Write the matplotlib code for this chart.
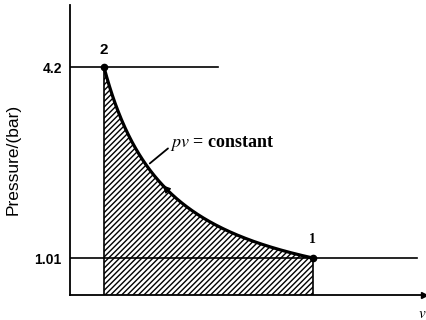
import numpy as np
import matplotlib
matplotlib.use("Agg")
import matplotlib.pyplot as plt

# Data
p_states = [1.01, 4.2]          # pressures at state 1 and 2 (bar)
state_labels = ["1", "2"]
C = 4.2                          # pv constant (arbitrary units)
v_states = [C / p for p in p_states]
ytick_vals = [1.01, 4.2]
ytick_labels = ["1.01", "4.2"]

plt.rcParams['hatch.linewidth'] = 1.0
plt.rcParams['mathtext.fontset'] = 'stix'

fig = plt.figure(figsize=(4.27, 3.2), dpi=100)
ax = fig.add_axes([70/427, 25/320, 354/427, 290/320])
ax.set_xlim(0.487, 5.836)
ax.set_ylim(0.3925, 5.236)

for s in ['top', 'right']:
    ax.spines[s].set_visible(False)
ax.spines['left'].set_linewidth(1.3)
ax.spines['bottom'].set_linewidth(1.3)
ax.set_xticks([])
ax.set_yticks(ytick_vals)
ax.set_yticklabels(ytick_labels, fontsize=10, fontweight='bold', family='Liberation Sans')
ax.tick_params(axis='y', length=0, pad=6)
ax.set_ylabel("Pressure/(bar)", fontsize=12.5, family='Liberation Sans')
ax.yaxis.set_label_coords(-0.14, 0.466)

v1, v2 = v_states[0], v_states[1]
p1, p2 = p_states[0], p_states[1]
v = np.linspace(v2, v1, 300)
p = C / v

ybot = ax.get_ylim()[0]
ax.fill_between(v, p, ybot, facecolor='white', edgecolor='black', hatch='//////', linewidth=0)

# horizontal lines
ax.plot([0.487, 2.72], [p2, p2], color='black', lw=1.2)
ax.plot([0.487, 5.73], [p1, p1], color='black', lw=1.2)
# vertical lines
ax.plot([v2, v2], [ybot, p2], color='black', lw=1.2)
ax.plot([v1, v1], [ybot, p1], color='black', lw=1.2)
# curve
ax.plot(v, p, color='black', lw=2.3)
ax.plot(v_states, p_states, 'o', color='black', ms=4.5)

ax.text(v2, 4.49, state_labels[1], ha='center', va='center', fontsize=11, fontweight='bold', family='Liberation Sans')
ax.text(v1 - 0.01, 1.32, state_labels[0], ha='center', va='center', fontsize=10, fontweight='bold', family='Liberation Serif')

# arrow on curve (direction 1 -> 2)
va_ = 1.93
ax.annotate('', xy=(va_ - 0.07, C/(va_ - 0.07)), xytext=(va_ + 0.03, C/(va_ + 0.03)),
            arrowprops=dict(arrowstyle='-|>', color='black', lw=1, mutation_scale=11))

# label with leader
ax.annotate('', xy=(1.66, C/1.66 + 0.03), xytext=(2.0, 2.87),
            arrowprops=dict(arrowstyle='-', color='black', lw=1.3))
ax.text(2.0, 2.92, r'$pv$ = constant', ha='left', va='center', fontsize=13,
        fontweight='bold', family='Liberation Serif')

# x-axis arrow
ax.plot([5.836], [ybot], marker='>', color='black', ms=5, clip_on=False)
ax.text(5.81, 0.09, r'$v$', ha='center', va='center', fontsize=11, clip_on=False)

fig.savefig("out.png", dpi=100)
